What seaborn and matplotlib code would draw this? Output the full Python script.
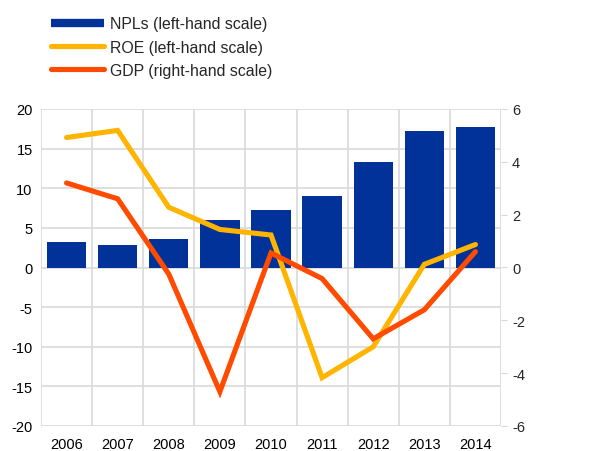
import numpy as np
import pandas as pd
import matplotlib
matplotlib.use("Agg")
import matplotlib.pyplot as plt
from matplotlib.lines import Line2D
import seaborn as sns

years = ["2006", "2007", "2008", "2009", "2010", "2011", "2012", "2013", "2014"]
npl = [3.2, 2.8, 3.6, 6.0, 7.2, 9.0, 13.3, 17.2, 17.7]
roe = [16.4, 17.3, 7.6, 4.8, 4.1, -13.9, -10.0, 0.4, 2.9]
gdp = [3.2, 2.6, -0.25, -4.7, 0.55, -0.42, -2.7, -1.6, 0.6]
left_ticks = [-20, -15, -10, -5, 0, 5, 10, 15, 20]
right_ticks = [-6, -4, -2, 0, 2, 4, 6]
labels = ["NPLs (left-hand scale)", "ROE (left-hand scale)", "GDP (right-hand scale)"]

BLUE = "#003299"
YELLOW = "#FFB400"
ORANGE = "#FF4B00"
GRID = "#D9D9D9"

sns.set_style("white")
plt.rcParams["font.family"] = ["Liberation Sans", "DejaVu Sans"]
plt.rcParams["font.size"] = 10

df = pd.DataFrame({"year": years, "npl": npl, "roe": roe, "gdp": gdp})
df["pos"] = np.arange(len(df))

fig = plt.figure(figsize=(6.16, 4.52), dpi=100)
ax = fig.add_axes([41 / 616, 1 - 427 / 452, 460 / 616, 317 / 452])

sns.barplot(data=df, x="year", y="npl", color=BLUE, width=0.77, ax=ax,
            saturation=1, edgecolor=BLUE, linewidth=0, zorder=2)
sns.lineplot(data=df, x="pos", y="roe", color=YELLOW, linewidth=3.7, ax=ax,
             zorder=3, solid_capstyle="round", solid_joinstyle="miter")

ax.set_xlim(-0.5, len(years) - 0.5)
ax.set_ylim(-20, 20)
ax.set_yticks(left_ticks)
ax.set_yticklabels([str(t) for t in left_ticks])
ax.set_xticks(np.arange(len(years)))
ax.set_xticklabels(years)
ax.set_xticks(np.arange(len(years) + 1) - 0.5, minor=True)
ax.grid(True, axis="y", color=GRID, linewidth=1.2, zorder=0)
ax.grid(True, axis="x", which="minor", color=GRID, linewidth=1.2, zorder=0)
ax.grid(False, axis="x", which="major")
ax.set_axisbelow(True)
ax.set_xlabel("")
ax.set_ylabel("")
for s in ax.spines.values():
    s.set_visible(False)
ax.tick_params(axis="both", which="both", length=0, labelsize=10.5, colors="black")
ax.tick_params(axis="y", pad=6)
ax.tick_params(axis="x", pad=8)

ax2 = ax.twinx()
sns.lineplot(data=df, x="pos", y="gdp", color=ORANGE, linewidth=3.7, ax=ax2,
             zorder=4, solid_capstyle="round", solid_joinstyle="miter")
ax2.set_ylim(-6, 6)
ax2.set_yticks(right_ticks)
ax2.set_yticklabels([str(t) for t in right_ticks])
ax2.set_ylabel("")
for s in ax2.spines.values():
    s.set_visible(False)
ax2.tick_params(axis="y", length=4, color=GRID, labelsize=10.5, pad=4)

handles = [
    Line2D([0], [0], color=BLUE, linewidth=6, solid_capstyle="butt"),
    Line2D([0], [0], color=YELLOW, linewidth=3.7, solid_capstyle="round"),
    Line2D([0], [0], color=ORANGE, linewidth=3.7, solid_capstyle="round"),
]
fig.legend(handles, labels, loc="upper left", bbox_to_anchor=(45 / 616, 1 - 11 / 452),
           frameon=False, fontsize=11.4, handlelength=3.3, handletextpad=0.42,
           labelspacing=0.52, borderaxespad=0)

fig.savefig("out.png", dpi=100)
